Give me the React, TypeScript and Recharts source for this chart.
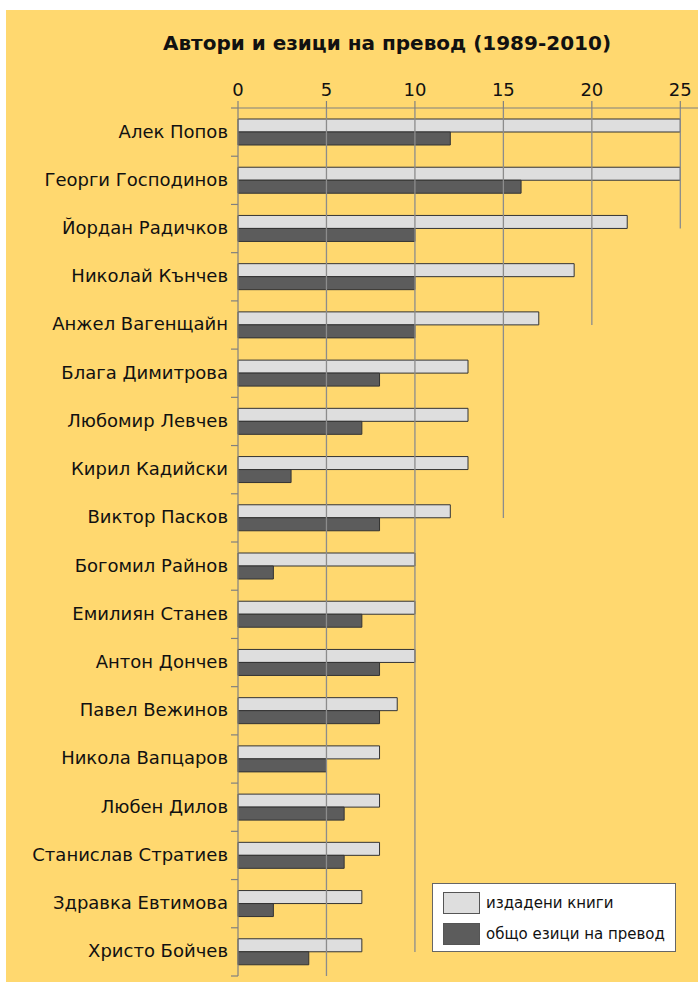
import { BarChart, Bar, XAxis, YAxis, ReferenceLine, Legend } from 'recharts'

const authors = [
  'Алек Попов',
  'Георги Господинов',
  'Йордан Радичков',
  'Николай Кънчев',
  'Анжел Вагенщайн',
  'Блага Димитрова',
  'Любомир Левчев',
  'Кирил Кадийски',
  'Виктор Пасков',
  'Богомил Райнов',
  'Емилиян Станев',
  'Антон Дончев',
  'Павел Вежинов',
  'Никола Вапцаров',
  'Любен Дилов',
  'Станислав Стратиев',
  'Здравка Евтимова',
  'Христо Бойчев',
]
const publishedBooks = [25, 25, 22, 19, 17, 13, 13, 13, 12, 10, 10, 10, 9, 8, 8, 8, 7, 7]
const translationLanguages = [12, 16, 10, 10, 10, 8, 7, 3, 8, 2, 7, 8, 8, 5, 6, 6, 2, 4]
const xTicks = [0, 5, 10, 15, 20, 25]

// vertical gridlines and the row where each one stops (null = runs to the bottom)
const gridValues = [5, 10, 15, 20, 25]
const gridStops: (string | null)[] = [null, 'Христо Бойчев', 'Виктор Пасков', 'Анжел Вагенщайн', 'Йордан Радичков']

const seriesNames = ['издадени книги', 'общо езици на превод']
const seriesColors = ['#dedede', '#5c5c5c']

const data = authors.map((name, i) => ({
  name,
  books: publishedBooks[i],
  languages: translationLanguages[i],
}))

const FONT = '"DejaVu Sans", Verdana, sans-serif'
const CHART_W = 692
const CHART_H = 972
const X_AXIS_H = 30
const MARGIN = { top: 98 - X_AXIS_H, right: 0, bottom: 6, left: 0 }
const PLOT_TOP = 98
const AXIS_W = 232
const BAND = (CHART_H - PLOT_TOP - MARGIN.bottom) / authors.length
const AXIS_GREY = '#808080'

const AuthorTick = (props: any) => {
  const { y, payload, index } = props
  return (
    <g>
      <text x={AXIS_W - 10} y={y} dy="0.3em" textAnchor="end" fontSize={18} fontFamily={FONT} fill="#111">
        {payload.value}
      </text>
      <line x1={AXIS_W - 7} x2={AXIS_W} y1={y + BAND / 2} y2={y + BAND / 2} stroke={AXIS_GREY} strokeWidth={1.2} />
      {index === 0 && (
        <line x1={AXIS_W - 7} x2={AXIS_W} y1={y - BAND / 2} y2={y - BAND / 2} stroke={AXIS_GREY} strokeWidth={1.2} />
      )}
    </g>
  )
}

const GridSegment = (props: any) => (
  <line x1={props.x1} x2={props.x2} y1={PLOT_TOP} y2={props.y2} stroke="#8c8c8c" strokeWidth={1.3} />
)

const renderLegend = () => (
  <div
    style={{
      width: 242,
      height: 67,
      background: '#fff',
      border: '1px solid #666',
      fontFamily: FONT,
      fontSize: 15,
      color: '#111',
      boxSizing: 'content-box',
    }}
  >
    {seriesNames.map((s, i) => (
      <div key={s} style={{ display: 'flex', alignItems: 'center', marginTop: i === 0 ? 8 : 9, marginLeft: 10 }}>
        <div style={{ width: 35, height: 20, background: seriesColors[i], border: '1px solid #555' }} />
        <span style={{ marginLeft: 6 }}>{s}</span>
      </div>
    ))}
  </div>
)

export default function App() {
  return (
    <div style={{ position: 'absolute', left: 0, top: 0, width: 698, height: 983, background: '#fff' }}>
      <div style={{ position: 'absolute', left: 6, top: 10, width: CHART_W, height: CHART_H, background: '#ffd86f' }}>
        <div
          style={{
            position: 'absolute',
            left: 81,
            top: 20,
            width: 600,
            textAlign: 'center',
            fontFamily: FONT,
            fontWeight: 'bold',
            fontSize: 20,
            lineHeight: '26px',
            color: '#111',
          }}
        >
          Автори и езици на превод (1989-2010)
        </div>
        <BarChart width={CHART_W} height={CHART_H} data={data} layout="vertical" margin={MARGIN} barGap={0}>
          <XAxis
            type="number"
            orientation="top"
            height={X_AXIS_H}
            domain={[0, 26]}
            ticks={xTicks}
            interval={0}
            tickSize={7}
            tickMargin={5}
            axisLine={{ stroke: AXIS_GREY, strokeWidth: 1.2 }}
            tickLine={{ stroke: AXIS_GREY, strokeWidth: 1.2 }}
            tick={{ fontSize: 18, fontFamily: FONT, fill: '#111' }}
          />
          <YAxis
            type="category"
            dataKey="name"
            width={AXIS_W}
            interval={0}
            tickLine={false}
            axisLine={{ stroke: AXIS_GREY, strokeWidth: 1.2 }}
            tick={<AuthorTick />}
          />
          {gridValues.map((v, i) =>
            gridStops[i] === null ? (
              <ReferenceLine key={v} x={v} shape={GridSegment} />
            ) : (
              <ReferenceLine
                key={v}
                segment={[
                  { x: v, y: authors[0] },
                  { x: v, y: gridStops[i] as string },
                ]}
                shape={GridSegment}
              />
            )
          )}
          <Bar dataKey="books" name={seriesNames[0]} fill={seriesColors[0]} stroke="#333" strokeWidth={1} barSize={13} isAnimationActive={false} />
          <Bar dataKey="languages" name={seriesNames[1]} fill={seriesColors[1]} stroke="#333" strokeWidth={1} barSize={13} isAnimationActive={false} />
          <Legend
            layout="vertical"
            align="center"
            verticalAlign="middle"
            content={renderLegend}
            wrapperStyle={{ left: 426, top: 873, width: 244 }}
          />
        </BarChart>
      </div>
    </div>
  )
}
